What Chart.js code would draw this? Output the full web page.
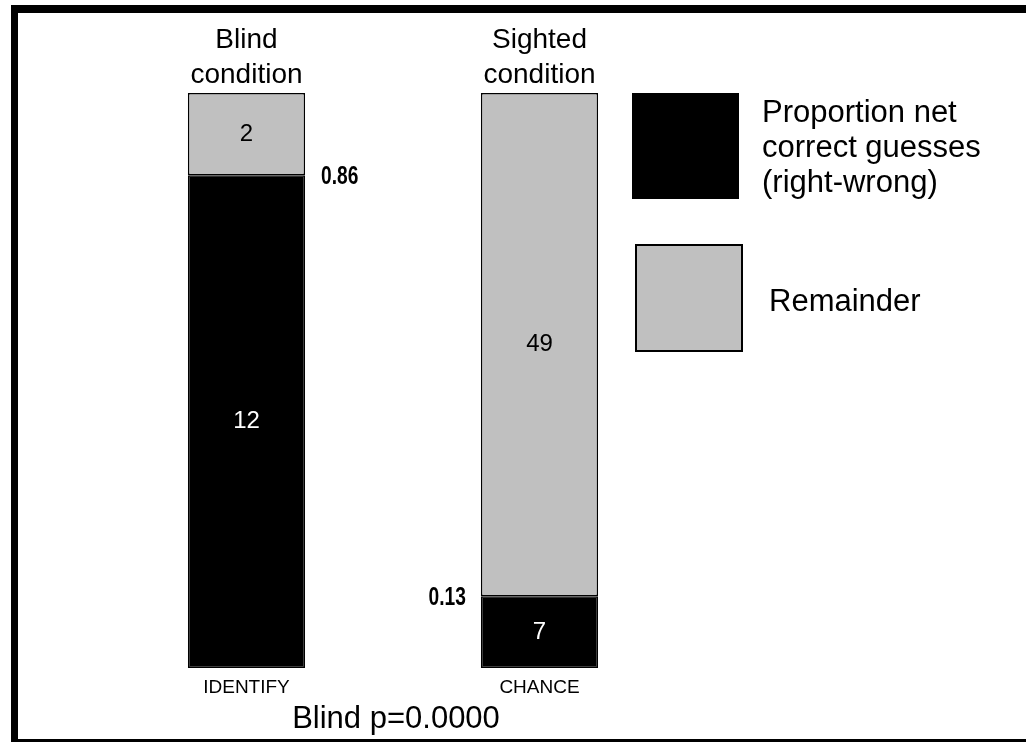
<!DOCTYPE html>
<html>
<head>
<meta charset="utf-8">
<script src="https://cdn.jsdelivr.net/npm/chart.js@4/dist/chart.umd.min.js"></script>
<style>
  html, body { margin: 0; padding: 0; background: #fff; }
  #wrap { width: 1026px; height: 742px; }
</style>
</head>
<body>
<div id="wrap"><canvas id="c" width="1026" height="742"></canvas></div>
<script>
const categories = ['IDENTIFY', 'CHANCE'];
const conditionTitles = [['Blind', 'condition'], ['Sighted', 'condition']];
const netCorrect = [12, 7];
const remainder = [2, 49];
const proportionLabels = ['0.86', '0.13'];
const seriesNames = [['Proportion net', 'correct guesses', '(right-wrong)'], ['Remainder']];
const footnote = 'Blind p=0.0000';

const totals = netCorrect.map((v, i) => v + remainder[i]);
const netShare = netCorrect.map((v, i) => v / totals[i]);
const remShare = remainder.map((v, i) => v / totals[i]);

const FONT = "'Liberation Sans', Arial, Helvetica, sans-serif";
const GREY = '#c0c0c0';

function narrowText(ctx, text, x, y, align) {
  const sx = 0.8;
  ctx.save();
  ctx.translate(x, y);
  ctx.scale(sx, 1.05);
  ctx.textAlign = align;
  ctx.fillText(text, 0, 0);
  ctx.restore();
}

const overlay = {
  id: 'overlay',
  afterDraw(chart) {
    const ctx = chart.ctx;
    const area = chart.chartArea;
    const xs = chart.scales.x;
    ctx.save();
    // frame
    ctx.fillStyle = '#000';
    ctx.fillRect(11, 5, 1015, 8);
    ctx.fillRect(11, 5, 7, 737);
    ctx.fillRect(11, 739, 1015, 3);

    // condition titles and category labels
    ctx.textAlign = 'center';
    ctx.textBaseline = 'alphabetic';
    categories.forEach((c, i) => {
      const x = xs.getPixelForValue(i);
      ctx.fillStyle = '#000';
      ctx.font = '28px ' + FONT;
      ctx.fillText(conditionTitles[i][0], x, area.top - 45);
      ctx.fillText(conditionTitles[i][1], x, area.top - 10);
      ctx.font = '19px ' + FONT;
      ctx.fillText(c, x, area.bottom + 25);
    });

    // value labels inside segments
    const metaNet = chart.getDatasetMeta(0);
    const metaRem = chart.getDatasetMeta(1);
    ctx.font = '24px ' + FONT;
    ctx.textBaseline = 'middle';
    categories.forEach((c, i) => {
      const bn = metaNet.data[i];
      const br = metaRem.data[i];
      ctx.fillStyle = '#fff';
      ctx.fillText(String(netCorrect[i]), bn.x, (bn.y + bn.base) / 2);
      ctx.fillStyle = '#000';
      ctx.fillText(String(remainder[i]), br.x, (br.y + br.base) / 2);
    });

    // proportion labels at the boundary (condensed bold)
    ctx.font = 'bold 24px ' + FONT;
    ctx.fillStyle = '#000';
    ctx.textBaseline = 'middle';
    categories.forEach((c, i) => {
      const bn = metaNet.data[i];
      const half = bn.width / 2;
      const y = bn.y + 2;
      if (i === 0) {
        narrowText(ctx, proportionLabels[i], bn.x + half + 16, y, 'left');
      } else {
        narrowText(ctx, proportionLabels[i], bn.x - half - 15, y, 'right');
      }
    });

    // legend
    ctx.fillStyle = '#000';
    ctx.fillRect(632, 93, 107, 106);
    ctx.fillStyle = GREY;
    ctx.fillRect(636, 245, 106, 106);
    ctx.strokeStyle = '#000';
    ctx.lineWidth = 2;
    ctx.strokeRect(636, 245, 106, 106);
    ctx.fillStyle = '#000';
    ctx.font = '31px ' + FONT;
    ctx.textAlign = 'left';
    ctx.textBaseline = 'alphabetic';
    seriesNames[0].forEach((t, k) => ctx.fillText(t, 762, 122 + k * 35));
    ctx.fillText(seriesNames[1][0], 769, 311);

    // footnote
    ctx.textAlign = 'center';
    ctx.font = '31px ' + FONT;
    ctx.fillText(footnote, 396, 728);
    ctx.restore();
  }
};

new Chart(document.getElementById('c'), {
  type: 'bar',
  data: {
    labels: categories,
    datasets: [
      {
        label: seriesNames[0].join(' '),
        data: netShare,
        backgroundColor: '#000',
        borderColor: '#000',
        borderWidth: 1.5,
        borderSkipped: false
      },
      {
        label: seriesNames[1][0],
        data: remShare,
        backgroundColor: GREY,
        borderColor: '#000',
        borderWidth: 1.5,
        borderSkipped: false
      }
    ]
  },
  options: {
    responsive: false,
    animation: false,
    devicePixelRatio: 1,
    layout: { padding: { left: 100, right: 340, top: 93, bottom: 74 } },
    datasets: { bar: { categoryPercentage: 0.4, barPercentage: 1.0 } },
    scales: {
      x: { stacked: true, display: false },
      y: { stacked: true, display: false, min: 0, max: 1 }
    },
    plugins: {
      legend: { display: false },
      tooltip: { enabled: false },
      title: { display: false }
    }
  },
  plugins: [overlay]
});
</script>
</body>
</html>
